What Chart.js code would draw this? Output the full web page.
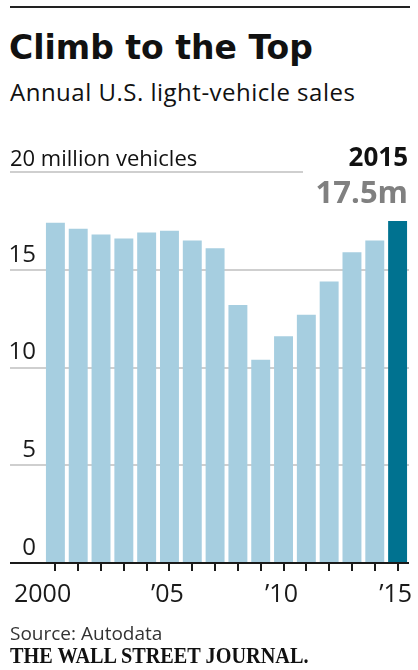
<!DOCTYPE html>
<html lang="en">
  <head>
    <meta charset="UTF-8" />
    <title>Climb to the Top</title>
    <style>
      html, body { margin: 0; padding: 0; background: #fff; }
      body { width: 418px; height: 670px; position: relative; overflow: hidden; font-family: 'Open Sans', sans-serif; color: #111; }
      .rule { position: absolute; left: 10px; top: 6px; width: 400px; height: 2px; background: #222; }
      .title { position: absolute; left: 9px; top: 31px; font-family: 'DejaVu Sans', sans-serif; font-size: 33px; line-height: 1; font-weight: 700; white-space: nowrap; }
      .subtitle { position: absolute; left: 10px; top: 80px; font-size: 24px; letter-spacing: 0.5px; line-height: 1; white-space: nowrap; }
      .source { position: absolute; left: 10px; top: 624px; font-size: 19px; line-height: 1; color: #333; }
      .wsj { position: absolute; left: 10px; top: 644px; font-family: 'Liberation Serif', serif; font-weight: 700; font-size: 23px; line-height: 1; transform: scaleX(0.88); transform-origin: left top; white-space: nowrap; }
      #chart { position: absolute; left: 0; top: 0; }
    </style>
  </head>
  <body>
    <div class="rule"></div>
    <div class="title">Climb to the Top</div>
    <div class="subtitle">Annual U.S. light-vehicle sales</div>
    <canvas id="chart" width="418" height="670"></canvas>
    <div class="source">Source: Autodata</div>
    <div class="wsj">THE WALL STREET JOURNAL.</div>

    <script src="https://cdn.jsdelivr.net/npm/chart.js@4.4.1/dist/chart.umd.min.js"></script>
    <script>
      // annual sales, million vehicles
      var years = ['2000', '2001', '2002', '2003', '2004', '2005', '2006', '2007',
        '2008', '2009', '2010', '2011', '2012', '2013', '2014', '2015'];
      var sales = [17.4, 17.1, 16.8, 16.6, 16.9, 17.0, 16.5, 16.1,
        13.2, 10.4, 11.6, 12.7, 14.4, 15.9, 16.5, 17.5];
      var yTicks = [0, 5, 10, 15, 20];
      var xLabels = ['2000', '\u201905', '\u201910', '\u201915'];
      var xLabelIdx = [0, 5, 10, 15];
      var unitLabel = '20 million vehicles';
      var highlightYear = '2015';
      var highlightValue = '17.5m';

      var light = '#a6cee0';
      var dark = '#007290';

      var colors = sales.map(function (v, i) {
        return i === sales.length - 1 ? dark : light;
      });

      var extras = {
        id: 'extras',
        afterDatasetsDraw: function (chart) {
          var ctx = chart.ctx;
          var y = chart.scales.y;
          var x = chart.scales.x;
          var top = y.getPixelForValue(20);
          ctx.save();
          // short top gridline with unit label
          ctx.strokeStyle = '#cfcfcf';
          ctx.lineWidth = 2;
          ctx.beginPath();
          ctx.moveTo(y.left, top);
          ctx.lineTo(303, top);
          ctx.stroke();
          ctx.fillStyle = '#111';
          ctx.font = '22px "Open Sans"';
          ctx.textAlign = 'left';
          ctx.textBaseline = 'alphabetic';
          ctx.fillText(unitLabel, y.left, top - 6.5);

          // highlight last bar
          var bars = chart.getDatasetMeta(0).data;
          var last = bars[bars.length - 1];
          var right = last.x + last.width / 2;
          ctx.textAlign = 'right';
          ctx.font = 'bold 26px "Open Sans"';
          ctx.fillStyle = '#111';
          ctx.fillText(highlightYear, right + 1, top - 6.5);
          ctx.font = 'bold 31px "Open Sans"';
          ctx.fillStyle = '#808080';
          ctx.fillText(highlightValue, right + 1, top + 31);

          // year labels; the first one sits flush left
          ctx.font = '25px "Open Sans"';
          ctx.fillStyle = '#1a1a1a';
          xLabels.forEach(function (t, k) {
            var px = x.getPixelForValue(xLabelIdx[k]);
            if (k === 0) {
              ctx.textAlign = 'left';
              ctx.fillText(t, y.left + 4, x.top + 39);
            } else {
              ctx.textAlign = 'center';
              ctx.fillText(t, px - 2, x.top + 39);
            }
          });
          ctx.restore();
        }
      };

      new Chart(document.getElementById('chart'), {
        type: 'bar',
        data: {
          labels: years,
          datasets: [
            {
              data: sales,
              backgroundColor: colors,
              barPercentage: 0.83,
              categoryPercentage: 1,
            },
          ],
        },
        options: {
          responsive: false,
          animation: false,
          layout: { padding: { top: 172, left: 10, right: 9, bottom: 62 } },
          plugins: { legend: { display: false }, tooltip: { enabled: false } },
          scales: {
            x: {
              afterFit: function (s) { s.height = 45; },
              border: { display: false },
              grid: {
                offset: false,
                drawOnChartArea: false,
                drawTicks: true,
                tickLength: 8,
                color: '#1a1a1a',
                lineWidth: 2,
              },
              ticks: { display: false, autoSkip: false, maxRotation: 0 },
            },
            y: {
              min: 0,
              max: 20,
              afterFit: function (s) { s.width = 34; },
              afterBuildTicks: function (s) {
                s.ticks = yTicks.map(function (v) { return { value: v }; });
              },
              border: { display: false },
              grid: {
                drawTicks: true,
                tickLength: 34,
                color: function (c) {
                  if (c.tick.value === 0) return '#1a1a1a';
                  if (c.tick.value === 20) return 'rgba(0,0,0,0)';
                  return '#cfcfcf';
                },
                lineWidth: 2,
              },
              ticks: {
                padding: -26,
                labelOffset: -15,
                color: '#1a1a1a',
                font: { family: 'Open Sans', size: 24 },
                callback: function (v) { return v === 20 ? '' : v; },
              },
            },
          },
        },
        plugins: [extras],
      });
    </script>
  </body>
</html>
